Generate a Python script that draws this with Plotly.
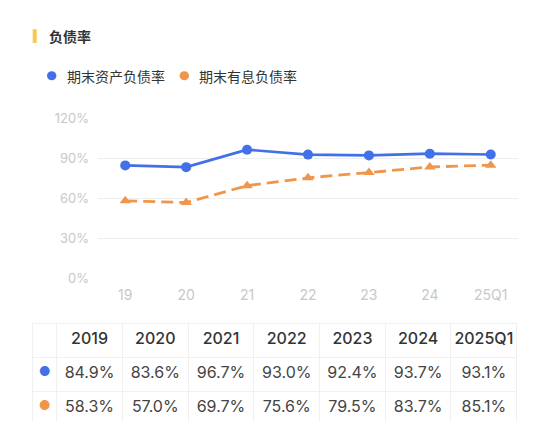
import plotly.graph_objects as go

# data
years = ["2019", "2020", "2021", "2022", "2023", "2024", "2025Q1"]
x_labels = ["19", "20", "21", "22", "23", "24", "25Q1"]
asset_ratio = [84.9, 83.6, 96.7, 93.0, 92.4, 93.7, 93.1]
interest_ratio = [58.3, 57.0, 69.7, 75.6, 79.5, 83.7, 85.1]
series_names = ["期末资产负债率", "期末有息负债率"]

BLUE = "#4170e8"
ORANGE = "#f0964a"
CJK = "Noto Sans CJK SC"
NUM = "Inter, Noto Sans CJK SC"
W, H = 550, 439
OFF = 8  # page body margin


def px(x):
    return (x - OFF) / W


def py_(y):
    return 1 - (y - OFF) / H


fig = go.Figure()

fig.add_trace(go.Scatter(
    x=x_labels, y=asset_ratio, mode="lines+markers", name=series_names[0],
    line=dict(color=BLUE, width=2.7),
    marker=dict(symbol="circle", size=10, color=BLUE),
    showlegend=False, hoverinfo="skip"))
fig.add_trace(go.Scatter(
    x=x_labels, y=interest_ratio, mode="lines+markers", name=series_names[1],
    line=dict(color=ORANGE, width=2.8, dash="12px,6px"),
    marker=dict(symbol="triangle-up", size=10, color=ORANGE),
    showlegend=False, hoverinfo="skip"))

# table
cells = [["●", "●"]]
for a, b in zip(asset_ratio, interest_ratio):
    cells.append([f"{a:.1f}%", f"{b:.1f}%"])
cell_colors = [[BLUE, ORANGE]] + [["#444444", "#444444"]] * len(years)
cell_sizes = [13] + [16] * len(years)

fig.add_trace(go.Table(
    domain=dict(x=[px(32.7), px(516.7)], y=[py_(429.5), py_(327.5)]),
    columnwidth=[24] + [65.7] * len(years),
    header=dict(values=[""] + years, height=34, align="center",
                fill_color="white", line=dict(color="#f0f0f0", width=1),
                font=dict(family=NUM, size=16, color="#333333", weight=500)),
    cells=dict(values=cells, height=34, align="center",
               fill_color="white", line=dict(color="#f0f0f0", width=1),
               font=dict(family=NUM, size=cell_sizes, color=cell_colors)),
))

fig.update_layout(
    width=W, height=H,
    margin=dict(l=0, r=0, t=0, b=0),
    paper_bgcolor="white", plot_bgcolor="white",
    font=dict(family=CJK),
    xaxis=dict(domain=[px(98), px(518)], showgrid=False, showline=False,
               zeroline=False, ticks="", fixedrange=True, ticklabelstandoff=6,
               tickfont=dict(family=NUM, size=14, color="#c8c8c8")),
    yaxis=dict(domain=[py_(280.5), py_(114.5)], range=[0, 120], dtick=30,
               ticksuffix="%", showgrid=True, gridcolor="#eeeeee",
               zeroline=False, showline=False, ticks="", ticklabelstandoff=8,
               tickfont=dict(family=NUM, size=13, color="#c8c8c8")),
    shapes=[
        dict(type="rect", xref="paper", yref="paper",
             x0=px(32.7), x1=px(36.7), y0=py_(36), y1=py_(21.7),
             fillcolor="#f6c94f", line_width=0),
        dict(type="circle", xref="paper", yref="paper",
             x0=px(47), x1=px(56.4), y0=py_(74.7), y1=py_(65.3),
             fillcolor=BLUE, line_width=0),
        dict(type="circle", xref="paper", yref="paper",
             x0=px(179.6), x1=px(189), y0=py_(74.7), y1=py_(65.3),
             fillcolor=ORANGE, line_width=0),
    ],
    annotations=[
        dict(text="<b>负债率</b>", x=px(46.7), y=py_(29), xref="paper", yref="paper",
             xanchor="left", yanchor="middle", showarrow=False,
             font=dict(size=14, color="#333333")),
        dict(text=series_names[0], x=px(65), y=py_(70), xref="paper", yref="paper",
             xanchor="left", yanchor="middle", showarrow=False,
             font=dict(size=14, color="#333333")),
        dict(text=series_names[1], x=px(196.7), y=py_(70), xref="paper", yref="paper",
             xanchor="left", yanchor="middle", showarrow=False,
             font=dict(size=14, color="#333333")),
    ],
)

fig.write_html("out.html")
